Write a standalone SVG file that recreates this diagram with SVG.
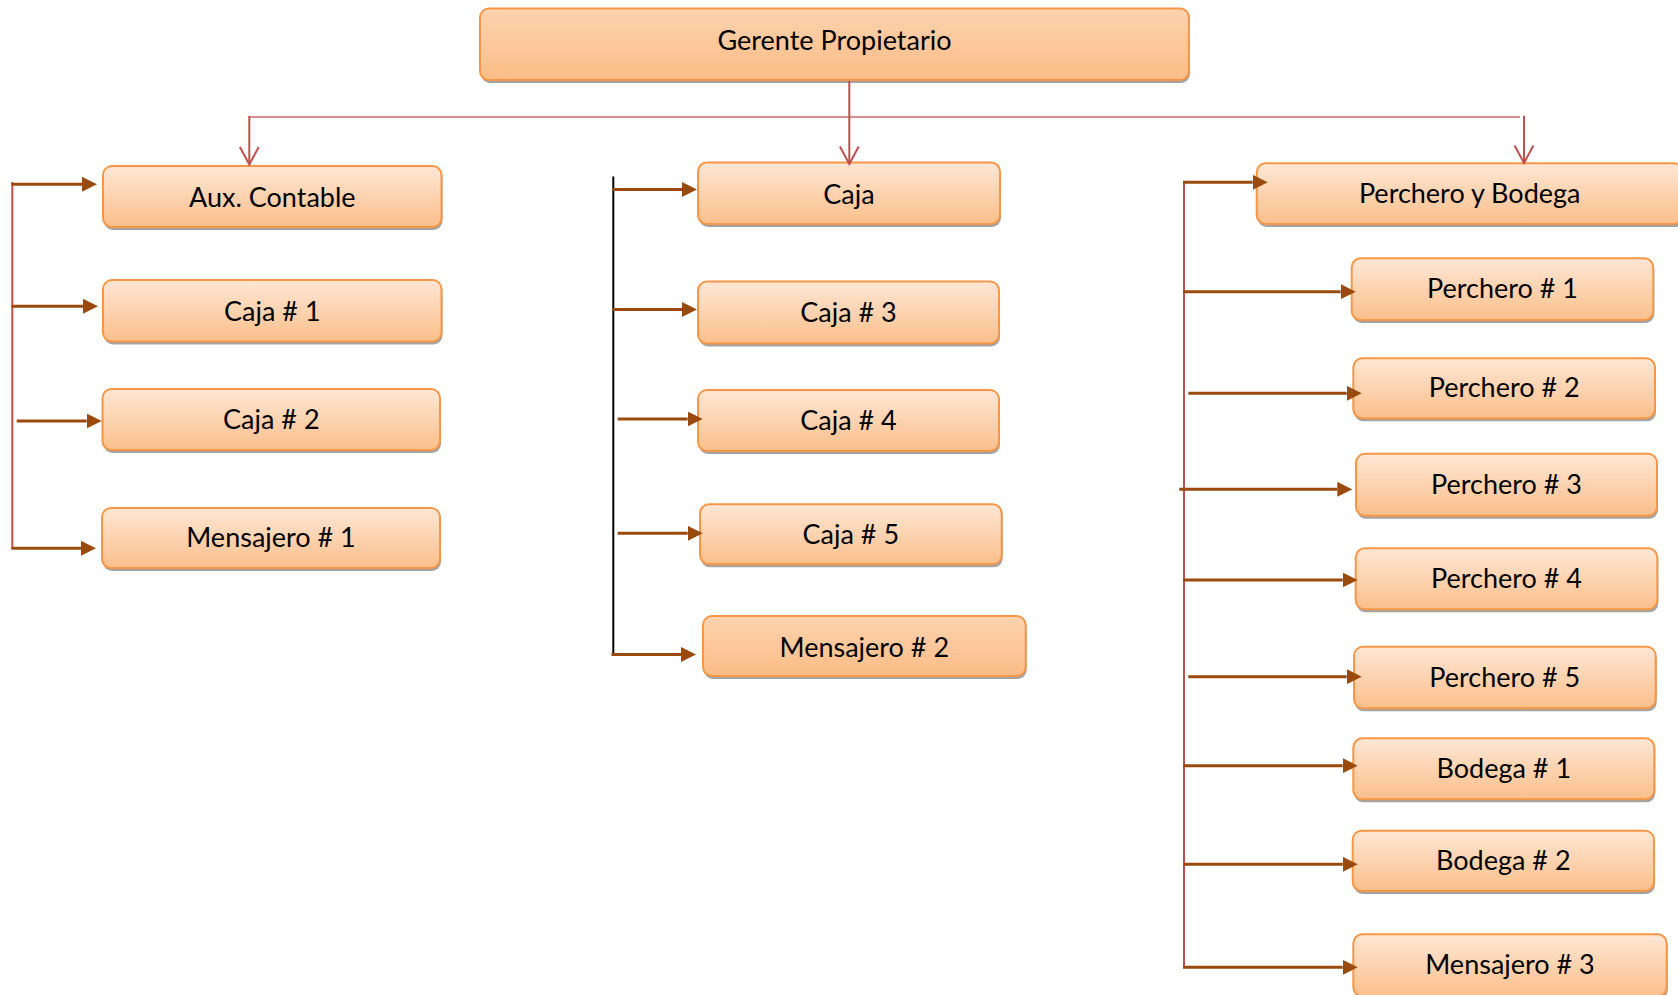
<svg xmlns="http://www.w3.org/2000/svg" width="1678" height="995" viewBox="0 0 1678 995">
  <defs>
    <linearGradient id="fillLight" x1="0" y1="0" x2="0" y2="1">
      <stop offset="0" stop-color="#FEE7D5"/>
      <stop offset="1" stop-color="#FBBF8B"/>
    </linearGradient>
    <linearGradient id="fillStrong" x1="0" y1="0" x2="0" y2="1">
      <stop offset="0" stop-color="#FDD3AF"/>
      <stop offset="1" stop-color="#FBBC86"/>
    </linearGradient>
    <marker id="solidHead" markerUnits="userSpaceOnUse" viewBox="0 0 15 15" refX="0" refY="7.5" markerWidth="15" markerHeight="15" orient="auto">
      <path d="M0,0 L15,7.5 L0,15 z" fill="#9A4A0C"/>
    </marker>
    <marker id="openHead" markerUnits="userSpaceOnUse" viewBox="-20 -11 22 22" refX="0" refY="0" markerWidth="22" markerHeight="22" orient="auto">
      <path d="M-17.5,-9.4 L0,0 L-17.5,9.4" fill="none" stroke="#C0504D" stroke-width="2"/>
    </marker>
  </defs>
  <style>
    .shadow { fill: #A3A3A3; }
    .box { fill: url(#fillLight); stroke: #F79646; stroke-width: 2; }
    .box.strong { fill: url(#fillStrong); }
    .label { font-family: Lato, "Liberation Sans", sans-serif; font-size: 27px; fill: #000; text-anchor: middle; }
    .trunk-red { stroke: #C0504D; stroke-width: 2; fill: none; }
    .trunk-black { stroke: #000; stroke-width: 2; fill: none; }
    .feed { stroke: #9A4A0C; stroke-width: 3; fill: none; marker-end: url(#solidHead); }
    .top-link { stroke: #C0504D; stroke-width: 2; fill: none; }
    .top-bar { stroke: #C0504D; stroke-width: 1.5; stroke-opacity: 0.85; fill: none; }
  </style>

  <!-- top level -->
  <g id="gerente">
    <rect class="shadow" x="481" y="11.5" width="709" height="71.5" rx="9"/>
    <rect class="box strong" x="480" y="8.5" width="709" height="71.5" rx="9"/>
    <text class="label" x="834.5" y="50">Gerente Propietario</text>
  </g>

  <!-- left column -->
  <g id="aux-contable">
    <rect class="shadow" x="104" y="169" width="338.5" height="61" rx="9"/>
    <rect class="box" x="103" y="166" width="338.5" height="61" rx="9"/>
    <text class="label" x="272.3" y="206.7">Aux. Contable</text>
  </g>
  <g id="caja-1">
    <rect class="shadow" x="104" y="283" width="338.5" height="61.5" rx="9"/>
    <rect class="box" x="103" y="280" width="338.5" height="61.5" rx="9"/>
    <text class="label" x="272.3" y="320.7">Caja # 1</text>
  </g>
  <g id="caja-2">
    <rect class="shadow" x="103.5" y="392" width="337.5" height="61" rx="9"/>
    <rect class="box" x="102.5" y="389" width="337.5" height="61" rx="9"/>
    <text class="label" x="271.3" y="429.3">Caja # 2</text>
  </g>
  <g id="mensajero-1">
    <rect class="shadow" x="103" y="511" width="338" height="60" rx="9"/>
    <rect class="box" x="102" y="508" width="338" height="60" rx="9"/>
    <text class="label" x="271" y="547.3">Mensajero # 1</text>
  </g>

  <!-- middle column -->
  <g id="caja">
    <rect class="shadow" x="699" y="165.4" width="302" height="61.5" rx="9"/>
    <rect class="box" x="698" y="162.4" width="302" height="61.5" rx="9"/>
    <text class="label" x="849" y="203.5">Caja</text>
  </g>
  <g id="caja-3">
    <rect class="shadow" x="699" y="284.5" width="301" height="62" rx="9"/>
    <rect class="box" x="698" y="281.5" width="301" height="62" rx="9"/>
    <text class="label" x="848.5" y="322">Caja # 3</text>
  </g>
  <g id="caja-4">
    <rect class="shadow" x="699" y="393" width="301" height="61" rx="9"/>
    <rect class="box" x="698" y="390" width="301" height="61" rx="9"/>
    <text class="label" x="848.5" y="430">Caja # 4</text>
  </g>
  <g id="caja-5">
    <rect class="shadow" x="701" y="507.3" width="301.7" height="60" rx="9"/>
    <rect class="box" x="700" y="504.3" width="301.7" height="60" rx="9"/>
    <text class="label" x="850.8" y="544.3">Caja # 5</text>
  </g>
  <g id="mensajero-2">
    <rect class="shadow" x="704" y="619" width="322.7" height="60" rx="9"/>
    <rect class="box strong" x="703" y="616" width="322.7" height="60" rx="9"/>
    <text class="label" x="864.3" y="656.7">Mensajero # 2</text>
  </g>

  <!-- right column -->
  <g id="perchero-bodega">
    <rect class="shadow" x="1257.7" y="166.3" width="426" height="60.7" rx="9"/>
    <rect class="box" x="1256.7" y="163.3" width="426" height="60.7" rx="9"/>
    <text class="label" x="1469.7" y="203.3">Perchero y Bodega</text>
  </g>
  <g id="perchero-1">
    <rect class="shadow" x="1352.7" y="261.3" width="301.6" height="61.7" rx="9"/>
    <rect class="box" x="1351.7" y="258.3" width="301.6" height="61.7" rx="9"/>
    <text class="label" x="1502.5" y="298.3">Perchero # 1</text>
  </g>
  <g id="perchero-2">
    <rect class="shadow" x="1354.3" y="361.3" width="301.7" height="60" rx="9"/>
    <rect class="box" x="1353.3" y="358.3" width="301.7" height="60" rx="9"/>
    <text class="label" x="1504.2" y="397.3">Perchero # 2</text>
  </g>
  <g id="perchero-3">
    <rect class="shadow" x="1357" y="456.8" width="301" height="62" rx="9"/>
    <rect class="box" x="1356" y="453.8" width="301" height="62" rx="9"/>
    <text class="label" x="1506.5" y="494.3">Perchero # 3</text>
  </g>
  <g id="perchero-4">
    <rect class="shadow" x="1356.7" y="551.3" width="301.6" height="61" rx="9"/>
    <rect class="box" x="1355.7" y="548.3" width="301.6" height="61" rx="9"/>
    <text class="label" x="1506.5" y="588.3">Perchero # 4</text>
  </g>
  <g id="perchero-5">
    <rect class="shadow" x="1355" y="649.7" width="301.7" height="61.6" rx="9"/>
    <rect class="box" x="1354" y="646.7" width="301.7" height="61.6" rx="9"/>
    <text class="label" x="1504.8" y="686.7">Perchero # 5</text>
  </g>
  <g id="bodega-1">
    <rect class="shadow" x="1354.3" y="741.3" width="301" height="61" rx="9"/>
    <rect class="box" x="1353.3" y="738.3" width="301" height="61" rx="9"/>
    <text class="label" x="1503.8" y="778.3">Bodega # 1</text>
  </g>
  <g id="bodega-2">
    <rect class="shadow" x="1353.7" y="833.7" width="301.3" height="60.3" rx="9"/>
    <rect class="box" x="1352.7" y="830.7" width="301.3" height="60.3" rx="9"/>
    <text class="label" x="1503.3" y="870">Bodega # 2</text>
  </g>
  <g id="mensajero-3">
    <rect class="shadow" x="1354.3" y="937.3" width="313.4" height="62" rx="9"/>
    <rect class="box" x="1353.3" y="934.3" width="313.4" height="62" rx="9"/>
    <text class="label" x="1510" y="974">Mensajero # 3</text>
  </g>

  <!-- connectors -->
  <g id="connectors">
    <!-- from the manager down to the three areas -->
    <line class="top-link" x1="849.3" y1="81" x2="849.3" y2="164" marker-end="url(#openHead)"/>
    <line class="top-bar" x1="249.3" y1="117" x2="1520" y2="117"/>
    <line class="top-link" x1="249.3" y1="116" x2="249.3" y2="164.5" marker-end="url(#openHead)"/>
    <line class="top-link" x1="1524" y1="115.7" x2="1524" y2="163" marker-end="url(#openHead)"/>

    <!-- left branch -->
    <line class="trunk-red" x1="12.3" y1="182" x2="12.3" y2="549"/>
    <line class="feed" x1="11.5" y1="184.3" x2="82" y2="184.3"/>
    <line class="feed" x1="11.5" y1="306.3" x2="83" y2="306.3"/>
    <line class="feed" x1="16.7" y1="421" x2="86.7" y2="421"/>
    <line class="feed" x1="11.5" y1="548.3" x2="81" y2="548.3"/>

    <!-- middle branch -->
    <line class="trunk-black" x1="613.3" y1="176.5" x2="613.3" y2="655"/>
    <line class="feed" x1="612.5" y1="189.5" x2="682" y2="189.5"/>
    <line class="feed" x1="612.5" y1="309.5" x2="682" y2="309.5"/>
    <line class="feed" x1="617.7" y1="419" x2="687.7" y2="419"/>
    <line class="feed" x1="617.7" y1="533.3" x2="687.7" y2="533.3"/>
    <line class="feed" x1="611.5" y1="654.5" x2="681" y2="654.5"/>

    <!-- right branch -->
    <line class="trunk-red" x1="1184" y1="181" x2="1184" y2="968"/>
    <line class="feed" x1="1183" y1="182.3" x2="1252.7" y2="182.3"/>
    <line class="feed" x1="1183" y1="291.7" x2="1340.7" y2="291.7"/>
    <line class="feed" x1="1188.3" y1="393.3" x2="1346.7" y2="393.3"/>
    <line class="feed" x1="1179.3" y1="489.3" x2="1337.3" y2="489.3"/>
    <line class="feed" x1="1183" y1="580" x2="1342.7" y2="580"/>
    <line class="feed" x1="1188.3" y1="676.7" x2="1346.7" y2="676.7"/>
    <line class="feed" x1="1183" y1="765.7" x2="1342.7" y2="765.7"/>
    <line class="feed" x1="1183" y1="864.3" x2="1342.7" y2="864.3"/>
    <line class="feed" x1="1183" y1="967.3" x2="1342.7" y2="967.3"/>
  </g>
</svg>
